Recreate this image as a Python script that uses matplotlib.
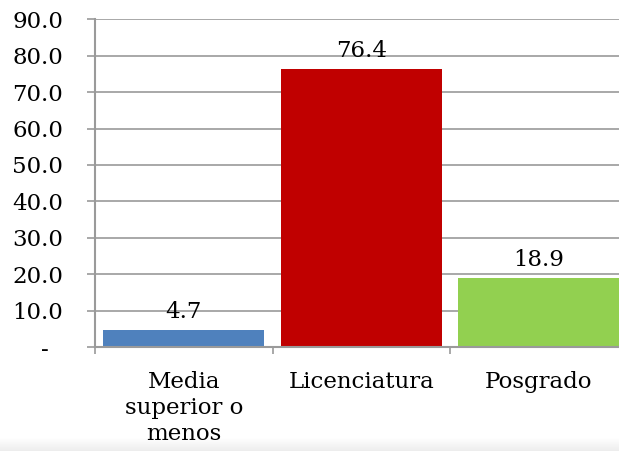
import matplotlib
matplotlib.use("Agg")
import matplotlib.pyplot as plt
import numpy as np
from matplotlib.ticker import FixedLocator, FuncFormatter
from matplotlib.patches import Rectangle

categories = ["Media\nsuperior o\nmenos", "Licenciatura", "Posgrado"]
values = [4.7, 76.4, 18.9]
colors = ["#4F81BD", "#C00000", "#92D050"]
yticks = [0, 10, 20, 30, 40, 50, 60, 70, 80, 90]

plt.rcParams['font.family'] = ['DejaVu Serif']

W, H = 619, 451
fig = plt.figure(figsize=(W / 100, H / 100), dpi=100)

# bottom gray band
for i in range(14):
    g = 1.0 - 0.07 * (i / 13)
    fig.patches.append(Rectangle((0, (13 - i) / H), 1, 1 / H, transform=fig.transFigure,
                                 facecolor=(g, g, g), edgecolor='none', zorder=-5))

left = 95 / W
bottom = 1 - 347 / H
top = 1 - 19.3 / H
right = 627.5 / W
ax = fig.add_axes([left, bottom, right - left, top - bottom])
ax.set_zorder(2)
ax.patch.set_alpha(0)

x = np.arange(len(values))
ax.bar(x, values, width=0.907, color=colors, zorder=3)
ax.set_xlim(-0.5, 2.5)
ax.set_ylim(0, 90)

gc = '#9a9a9a'
ax.set_yticks(yticks)
ax.yaxis.set_major_formatter(FuncFormatter(lambda v, p: "-  " if v == 0 else f"{v:.1f}"))
ax.grid(axis='y', color=gc, linewidth=1.2, zorder=1)
ax.tick_params(axis='y', length=6, width=1.2, color=gc, pad=17, labelsize=16.5)

ax.xaxis.set_major_locator(FixedLocator([-0.5, 0.5, 1.5, 2.5]))
ax.xaxis.set_major_formatter(FuncFormatter(lambda v, p: ""))
ax.xaxis.set_minor_locator(FixedLocator(list(x)))
ax.set_xticklabels(categories, minor=True)
ax.tick_params(axis='x', which='major', length=5, width=1.2, color=gc)
ax.tick_params(axis='x', which='minor', length=0, pad=17, labelsize=16.5)
for lab in ax.get_xticklabels(minor=True):
    lab.set_linespacing(1.25)
    lab.set_va('top')

for s in ['top', 'right']:
    ax.spines[s].set_visible(False)
for s in ['left', 'bottom']:
    ax.spines[s].set_color(gc)
    ax.spines[s].set_linewidth(1.5)
ax.spines['bottom'].set_zorder(4)

for xi, v in zip(x, values):
    ax.annotate(f"{v:.1f}", (xi, v), xytext=(0, 5), textcoords='offset points',
                ha='center', va='bottom', fontsize=16.5)

fig.savefig("out.png", dpi=100)
